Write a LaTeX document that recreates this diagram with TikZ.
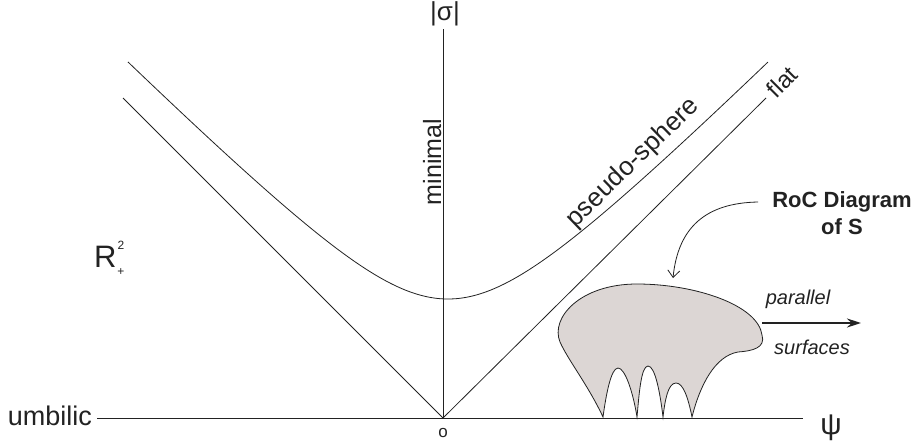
\documentclass[tikz,border=0pt]{standalone}
\usepackage{fontspec}
\setmainfont{Liberation Sans}
\usetikzlibrary{arrows.meta}
\definecolor{ink}{HTML}{222222}
\definecolor{blobfill}{HTML}{DCD6D4}
\newcommand{\fs}[1]{\fontsize{#1}{#1}\selectfont}
\tikzset{
  thin line/.style={draw=ink, line width=0.8pt},
  lbl/.style={inner sep=0pt, text=ink},
}
\begin{document}
\begin{tikzpicture}[x=1pt,y=-1pt]
\useasboundingbox (0,0) rectangle (920,444);
% named points
\coordinate (O) at (443,418);
\coordinate (Top) at (443,29);
\coordinate (Lend) at (97,418);
\coordinate (Rend) at (803,418);
\coordinate (VL) at (123,98);
\coordinate (VR) at (766,98);
% axes
\draw[thin line] (Lend) -- (Rend);
\draw[thin line] (O) -- (Top);
% V lines (flat)
\draw[thin line] (VL) -- (O) -- (VR);
% hyperbola (pseudo-sphere)
\draw[thin line] plot[domain=-3.2:3.2, samples=120, smooth]
  ({448+100*\x},{418-100*(sqrt(\x*\x+0.975*0.975)+0.215)});
% labels
\node[lbl, anchor=base east] (umb) at (92,425) {\fs{27}umbilic};
\node[lbl] (psi) at (831,428) {\fs{30}ψ};
\node[lbl] (o) at (443,433) {\fs{17}o};
\node[lbl] (sig) at (445,14) {\fs{26}|σ|};
\node[lbl, rotate=90, anchor=base] (minimal) at (441,162) {\fs{25}minimal};
\node[lbl, rotate=44] (ps) at (633,163) {\fs{26}pseudo-sphere};
\node[lbl, rotate=45] (flat) at (782,82) {\fs{24}flat};
\node[lbl, anchor=base west] (R) at (94,267) {\fs{31}R};
\node[lbl] (R2) at (121,245) {\fs{12}2};
\node[lbl] (Rp) at (121,272) {\fs{12}+};
% blob
\draw[thin line, fill=blobfill]
  (603,417) .. controls (588,385) and (568,360) .. (560,342)
  .. controls (550,318) and (580,284) .. (637,284)
  .. controls (695,284) and (758,305) .. (762,335)
  .. controls (766,348) and (752,351) .. (738,352)
  .. controls (715,356) and (700,385) .. (692,417)
  .. controls (688,397) and (683,383) .. (676,383)
  .. controls (668,383) and (665,400) .. (663,417)
  .. controls (660,392) and (655,366) .. (648,366)
  .. controls (641,366) and (639,395) .. (637,417)
  .. controls (633,392) and (625,368) .. (618,368)
  .. controls (611,368) and (606,395) .. (603,417) -- cycle;
% RoC label and arrow
\node[lbl, align=center, font=\bfseries\fs{22}] (roc) at (842,213) {RoC Diagram\\[5pt]of S};
\coordinate (rocstart) at (758,202);
\coordinate (roctip) at (673,278);
\draw[thin line, -{Straight Barb[length=7pt,width=12pt]}] (rocstart) .. controls (705,203) and (678,228) .. (roctip);
% parallel surfaces arrow
\coordinate (ps1) at (762,323);
\coordinate (ps2) at (861,323);
\draw[draw=ink, line width=1.8pt, -{Stealth[length=14pt,width=9pt]}] (ps1) -- (ps2);
\node[lbl] (par) at (798,299) {\fs{20}\itshape parallel};
\node[lbl] (surf) at (812,347) {\fs{20}\itshape surfaces};
\end{tikzpicture}
\end{document}
